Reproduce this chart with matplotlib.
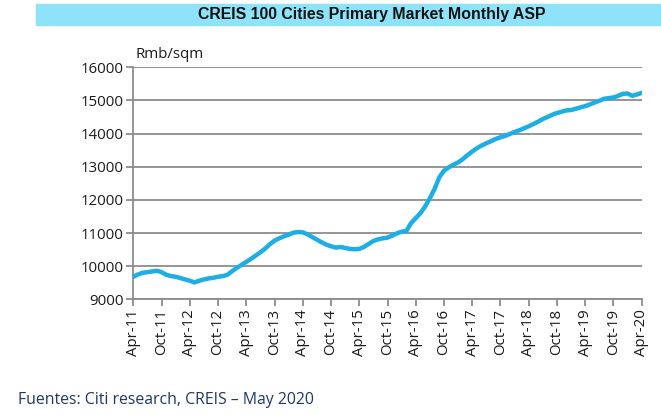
import numpy as np
import matplotlib
matplotlib.use('Agg')
import matplotlib.pyplot as plt
from matplotlib.patches import Rectangle

# monthly ASP, Apr-11 .. Apr-20 (Rmb/sqm)
asp = [9680, 9750, 9800, 9820, 9840, 9860, 9820, 9740, 9700, 9680, 9640, 9600,
       9560, 9510, 9560, 9600, 9630, 9650, 9680, 9700, 9740, 9850, 9950, 10040,
       10130, 10220, 10320, 10420, 10530, 10660, 10770, 10840, 10900, 10950, 11010, 11030,
       11020, 10960, 10880, 10800, 10720, 10650, 10600, 10560, 10580, 10550, 10520, 10510,
       10520, 10580, 10670, 10760, 10810, 10840, 10860, 10920, 10990, 11040, 11060, 11300,
       11450, 11600, 11800, 12050, 12330, 12680, 12880, 12980, 13060, 13130, 13230, 13350,
       13460, 13560, 13640, 13710, 13770, 13840, 13890, 13930, 13990, 14050, 14100, 14160,
       14220, 14290, 14360, 14440, 14500, 14570, 14620, 14660, 14700, 14710, 14750, 14790,
       14830, 14880, 14940, 14990, 15050, 15070, 15090, 15140, 15200, 15210, 15140, 15180,
       15230]
tick_labels = ['Apr-11', 'Oct-11', 'Apr-12', 'Oct-12', 'Apr-13', 'Oct-13', 'Apr-14',
               'Oct-14', 'Apr-15', 'Oct-15', 'Apr-16', 'Oct-16', 'Apr-17', 'Oct-17',
               'Apr-18', 'Oct-18', 'Apr-19', 'Oct-19', 'Apr-20']
yticks = [9000, 10000, 11000, 12000, 13000, 14000, 15000, 16000]

plt.rcParams['font.family'] = ['Open Sans', 'DejaVu Sans']
grey = '#8c8c8c'

fig = plt.figure(figsize=(6.61, 4.15), dpi=100)
ax = fig.add_axes([0.2017, 0.2788, 0.7691, 0.559])

months = np.arange(len(asp))
ax.plot(months, asp, color='#1daee6', lw=3.2, solid_capstyle='round', zorder=3)

ax.set_xlim(0, len(asp) - 1)
ax.set_ylim(9000, 16000)
ax.set_yticks(yticks)
ax.set_xticks(np.arange(0, len(asp), 6))
ax.set_xticklabels(tick_labels, rotation=90)
ax.yaxis.grid(True, color=grey, lw=1.3)
ax.set_axisbelow(True)

for s in ['top', 'right']:
    ax.spines[s].set_visible(False)
for s in ['left', 'bottom']:
    ax.spines[s].set_color(grey)
    ax.spines[s].set_linewidth(1.3)
ax.tick_params(axis='both', colors=grey, length=5, width=1.3, direction='out',
               labelsize=10.8, labelcolor='#1a1a1a', pad=2)

ax.text(0.005, 1.025, 'Rmb/sqm', transform=ax.transAxes, ha='left', va='bottom',
        fontsize=10.8, color='#1a1a1a')

# title band
fig.patches.append(Rectangle((36 / 661, 1 - 25 / 415), 625 / 661, 21 / 415,
                             transform=fig.transFigure, color='#8ee3fa', zorder=0))
fig.text(372 / 661, 1 - 14.5 / 415, 'CREIS 100 Cities Primary Market Monthly ASP',
         ha='center', va='center', fontsize=11.4, fontweight='bold',
         family=['Liberation Sans Narrow', 'Liberation Sans', 'DejaVu Sans'], color='#111111')

fig.text(18 / 661, 1 - 400 / 415, 'Fuentes: Citi research, CREIS \u2013 May 2020',
         ha='left', va='center', fontsize=11.4, color='#1f3864')

fig.savefig('out.png', dpi=100)
